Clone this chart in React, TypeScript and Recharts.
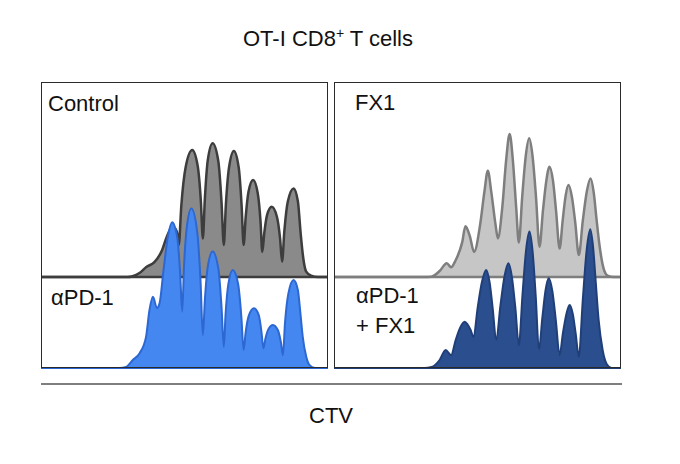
import React from 'react';
import { ComposedChart, Area, XAxis, YAxis } from 'recharts';

// CTV channel positions (0-1000) and histogram heights (% of panel height)
const controlX = [0, 301, 319, 343, 367, 395, 420, 438, 458, 469, 476, 480, 489, 504, 527, 546, 557, 564, 571, 581, 598, 618, 629, 637, 644, 655, 672, 689, 699, 706, 713, 723, 739, 755, 765, 771, 778, 788, 804, 822, 833, 840, 848, 860, 880, 895, 905, 914, 924, 941, 965, 1000];
const controlY = [0, 0, 0.3, 1.4, 3.5, 5.2, 9.0, 14.0, 17.6, 16.8, 14.7, 11.2, 25.1, 38.4, 44.4, 38.8, 26.5, 13.5, 27.5, 40.8, 46.8, 40.4, 26.2, 11.2, 25.0, 38.2, 44.1, 38.2, 25.0, 11.2, 20.7, 29.8, 33.9, 29.4, 19.3, 8.8, 15.4, 21.8, 24.6, 21.1, 13.5, 5.4, 16.2, 26.4, 31.0, 26.5, 15, 6.5, 1.9, 0.5, 0, 0];

const apd1X = [0, 274, 297, 320, 343, 366, 378, 390, 404, 413, 427, 442, 457, 475, 485, 492, 498, 508, 524, 544, 556, 564, 571, 581, 598, 618, 629, 637, 643, 653, 668, 687, 698, 706, 713, 724, 742, 759, 768, 775, 782, 792, 808, 826, 836, 843, 850, 862, 880, 895, 904, 912, 924, 936, 956, 1000];
const apd1Y = [0, 0, 0.4, 2.8, 5.1, 10.9, 20.3, 24.9, 21.0, 22.6, 34.3, 45.9, 51.0, 45.4, 32.8, 19.7, 34.9, 49.3, 55.8, 47.8, 30.1, 11.5, 23.8, 35.4, 40.7, 34.7, 21.4, 7.4, 18.7, 29.5, 34.3, 29.3, 18.1, 6.3, 12.4, 18.3, 20.9, 18.4, 12.8, 6.9, 10.3, 13.5, 15.0, 13.1, 8.9, 4.5, 15.5, 26.1, 30.8, 27.3, 19, 10.9, 4.0, 1.0, 0, 0];

const fx1X = [0, 315, 339, 368, 393, 408, 422, 447, 458, 473, 488, 509, 524, 536, 548, 563, 571, 586, 600, 612, 623, 635, 644, 656, 668, 680, 692, 704, 716, 728, 740, 751, 763, 774, 786, 797, 807, 817, 829, 841, 853, 867, 881, 894, 905, 915, 925, 939, 953, 974, 1000];
const fx1Y = [0, 0, 0.1, 2.1, 4.8, 3.4, 5.5, 12.3, 17.8, 14.4, 8.8, 18.2, 29.8, 37.2, 29.8, 18.2, 13.5, 24.0, 41.1, 50.0, 41.1, 24.0, 12.1, 28.4, 42.2, 48.5, 42.1, 27.8, 10.6, 23.2, 33.8, 38.6, 33.7, 22.9, 10.0, 20.0, 28.4, 32.2, 28.0, 18.7, 7.7, 19.8, 30.0, 34.5, 29.5, 20, 11.2, 3.1, 0.5, 0, 0];

const comboX = [0, 315, 340, 368, 389, 408, 424, 440, 455, 465, 476, 486, 501, 516, 530, 542, 553, 565, 580, 594, 608, 620, 632, 644, 657, 669, 681, 692, 703, 714, 726, 737, 748, 761, 773, 786, 798, 810, 821, 832, 842, 853, 867, 880, 893, 903, 912, 922, 936, 950, 967, 1000];
const comboY = [0, 0, 0.35, 2.8, 6.3, 4.5, 9.8, 14.2, 16.2, 15.3, 13.3, 10.9, 21.4, 30.3, 34.3, 30.1, 20.8, 9.8, 21.9, 32.0, 36.6, 31.7, 20.9, 8.0, 25.9, 41.0, 47.7, 40.7, 24.9, 6.3, 17.6, 27.1, 31.4, 26.8, 16.6, 4.5, 12.4, 19.0, 22.0, 18.9, 12.1, 4.0, 24.0, 40.9, 48.5, 42, 30, 16.8, 6.3, 1.4, 0, 0];

const UPPER_BASE = 31.8;

const toRows = (xs: number[], ys: number[]) => xs.map((x, i) => ({ x, y: ys[i] }));

const PW = 287;
const PH = 286;

function Histo({ rows, base, fill, stroke, sw }: { rows: { x: number; y: number }[]; base: number; fill: string; stroke: string; sw: number }) {
  return (
    <ComposedChart width={PW} height={PH + 2} data={rows} margin={{ top: 0, right: 0, left: 0, bottom: 2 }}>
      <XAxis dataKey="x" type="number" domain={[0, 1000]} hide />
      <YAxis type="number" domain={[0, 100]} hide />
      <Area
        type="monotone"
        dataKey={(d: any) => [base, base + d.y]}
        fill={fill}
        fillOpacity={1}
        stroke={stroke}
        strokeWidth={sw}
        dot={false}
        activeDot={false}
        isAnimationActive={false}
      />
    </ComposedChart>
  );
}

function Panel({ left, upper, lower, upFill, upStroke, lowFill, lowStroke }: any) {
  const pos: React.CSSProperties = { position: 'absolute', left, top: 82 };
  return (
    <>
      <div style={{ ...pos, width: PW, height: PH + 2 }}>
        <Histo rows={upper} base={UPPER_BASE} fill={upFill} stroke={upStroke} sw={2.5} />
      </div>
      <div style={{ ...pos, width: PW, height: PH + 2 }}>
        <Histo rows={lower} base={0} fill={lowFill} stroke={lowStroke} sw={2} />
      </div>
      <div style={{ ...pos, width: PW, height: PH, boxSizing: 'border-box', border: '1.5px solid #2a2a2a', pointerEvents: 'none' }} />
    </>
  );
}

export default function App() {
  const font = '"Liberation Sans", Arial, sans-serif';
  return (
    <div style={{ position: 'absolute', left: 0, top: 0, width: 680, height: 464, background: '#fff', overflow: 'hidden' }}>
      <Panel left={41} upper={toRows(controlX, controlY)} lower={toRows(apd1X, apd1Y)}
        upFill="#8a8a8a" upStroke="#3d3d3d" lowFill="#4587f0" lowStroke="#2c67d2" />
      <Panel left={334} upper={toRows(fx1X, fx1Y)} lower={toRows(comboX, comboY)}
        upFill="#c6c6c6" upStroke="#7e7e7e" lowFill="#2b4e8e" lowStroke="#203f78" />
      <svg width={680} height={464} style={{ position: 'absolute', left: 0, top: 0, pointerEvents: 'none' }} fontFamily={font} fill="#111">
        <text x={328} y={46} fontSize={22} textAnchor="middle">
          OT-I CD8<tspan fontSize={14} dy={-8}>+</tspan><tspan dy={8}> T cells</tspan>
        </text>
        <text x={48} y={111} fontSize={22}>Control</text>
        <text x={51} y={305} fontSize={22}>αPD-1</text>
        <text x={355} y={110} fontSize={22}>FX1</text>
        <text x={356} y={303} fontSize={22}>αPD-1</text>
        <text x={356} y={333} fontSize={22}>+ FX1</text>
        <line x1={41} x2={622} y1={384} y2={384} stroke="#555" strokeWidth={1.5} />
        <text x={331} y={423} fontSize={22} textAnchor="middle">CTV</text>
      </svg>
    </div>
  );
}
